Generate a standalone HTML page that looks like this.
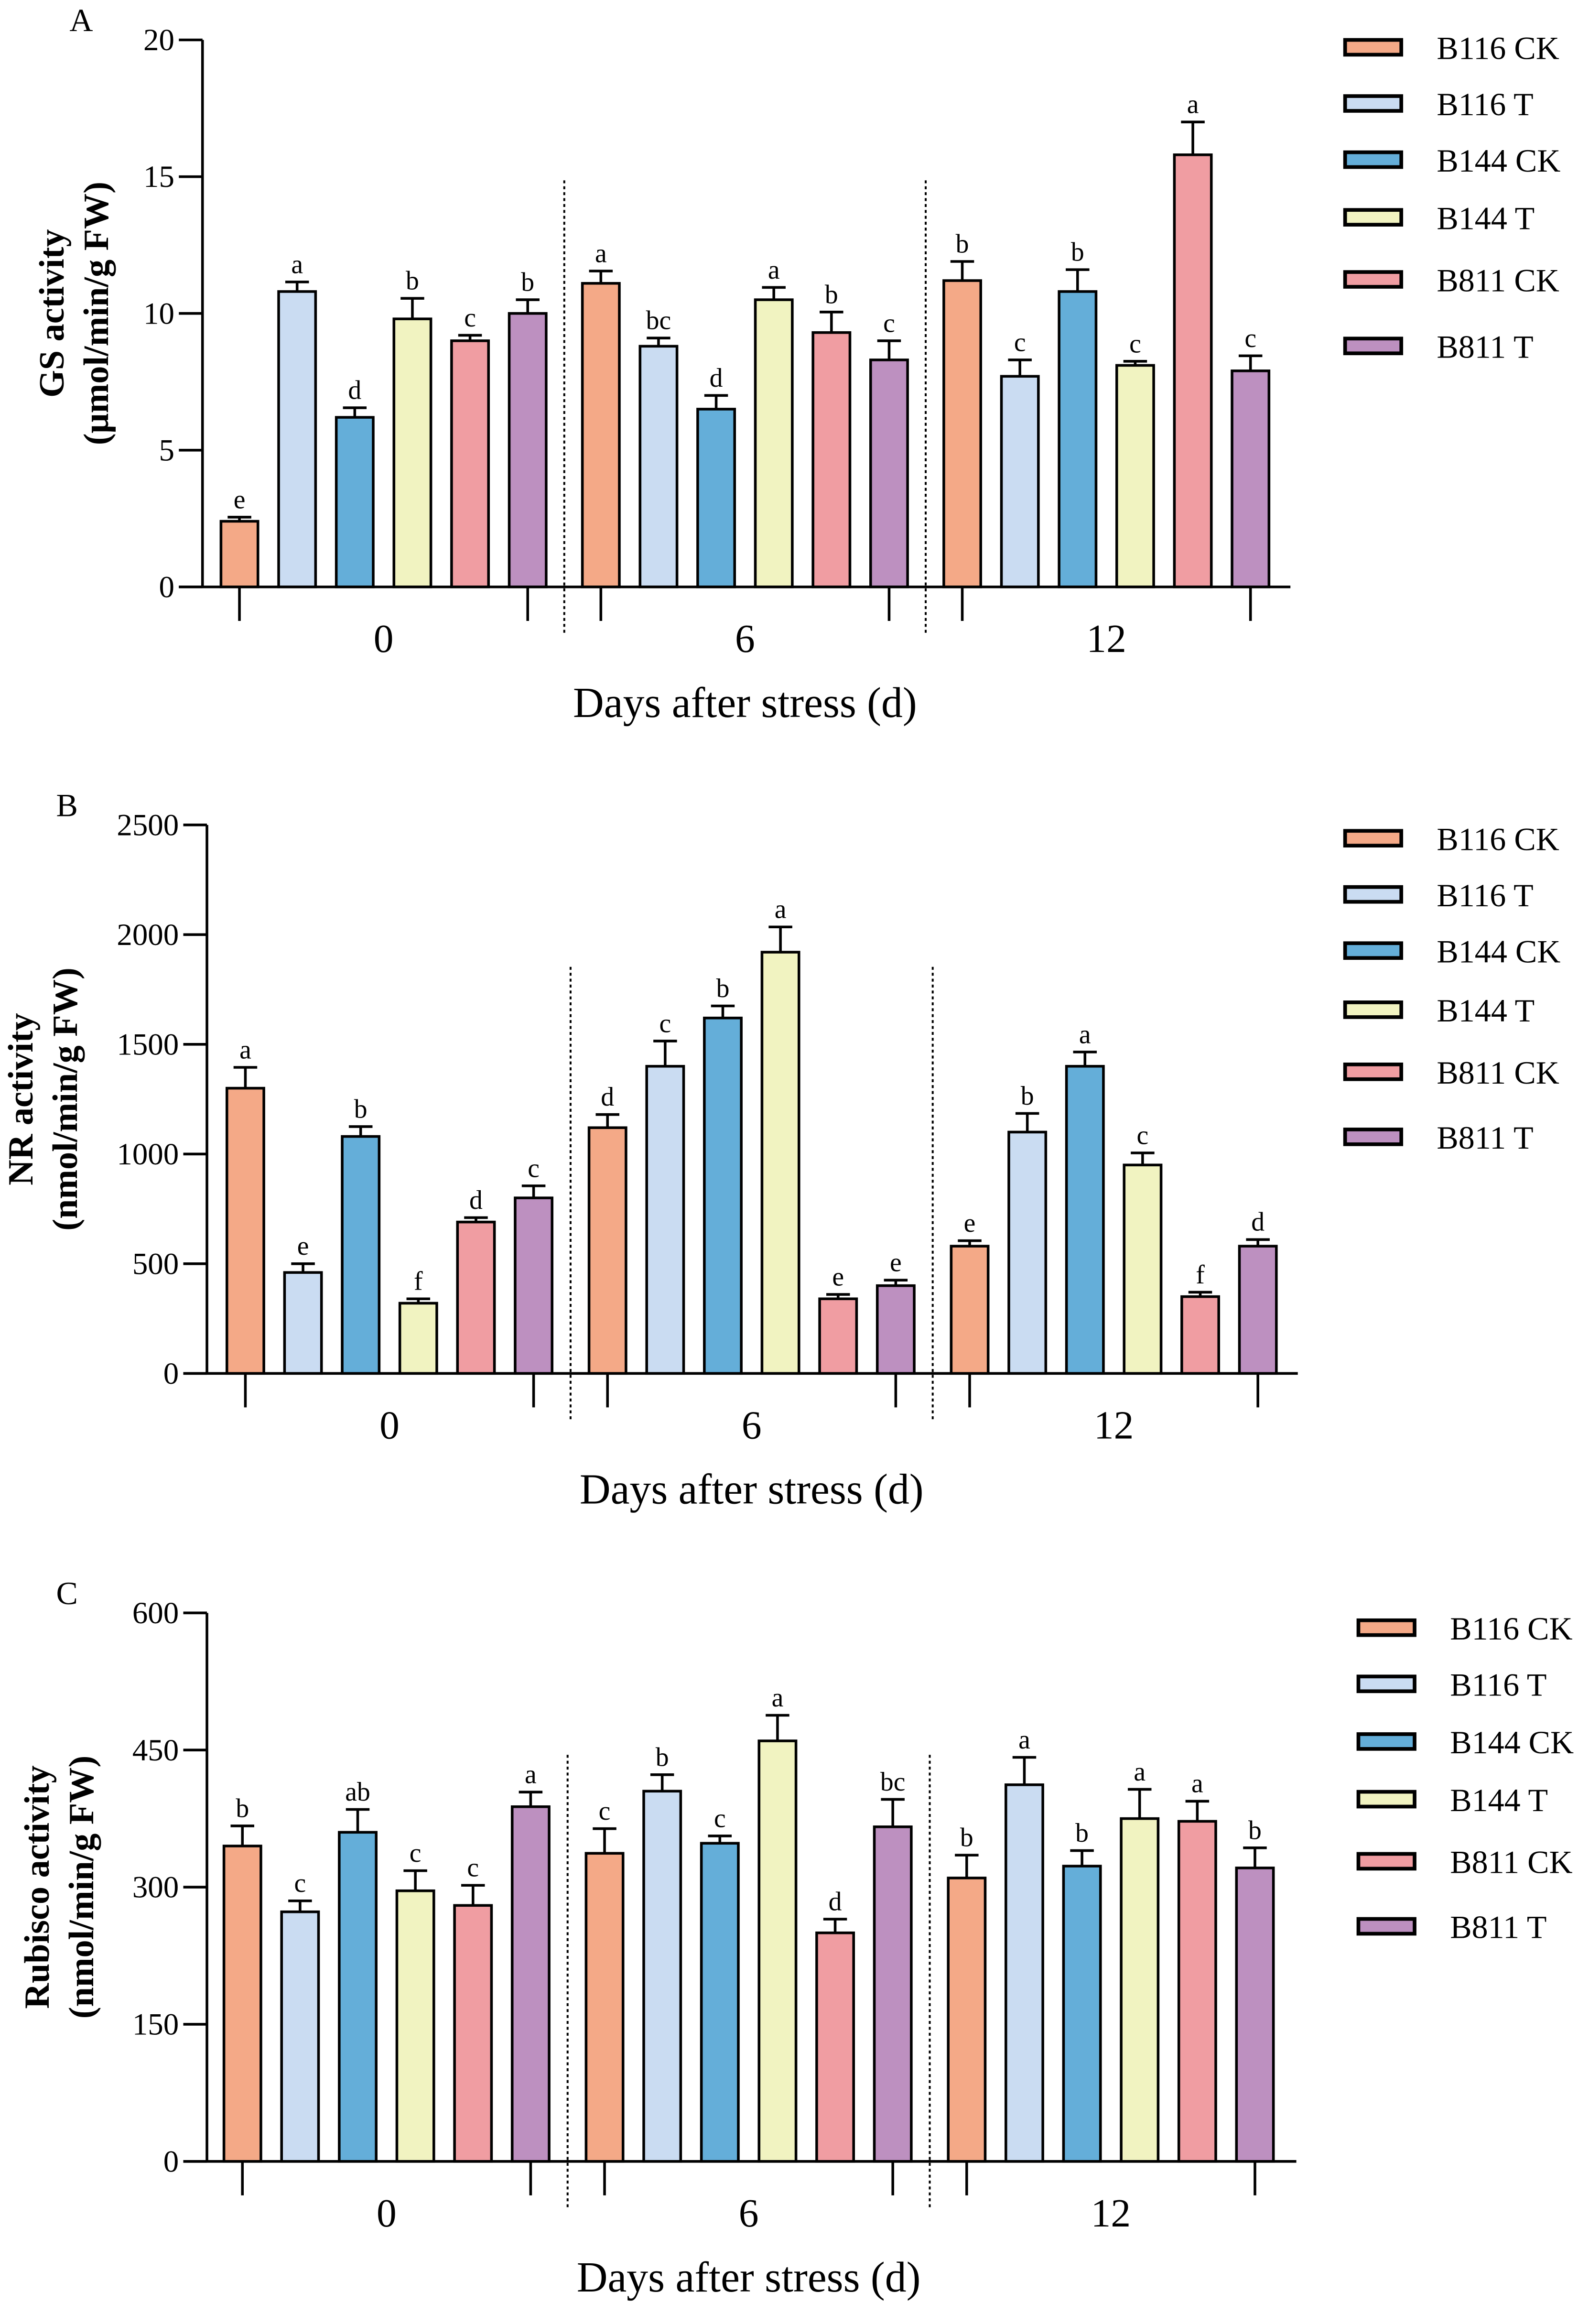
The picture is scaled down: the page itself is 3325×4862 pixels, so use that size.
<!DOCTYPE html>
<html><head><meta charset="utf-8"><style>
html,body{margin:0;padding:0;background:#fff}
svg{display:block}
text{font-family:"Liberation Serif",serif;fill:#000}
</style></head><body>
<svg id="fig" width="3325" height="4862" viewBox="0 0 1075 1572" preserveAspectRatio="none" xmlns="http://www.w3.org/2000/svg"></svg>
<script>
const seriesNames = ["B116 CK","B116 T","B144 CK","B144 T","B811 CK","B811 T"];
const seriesColors = ["#F4A987","#CADCF2","#64AED9","#F1F3C1","#F09DA2","#BD90C0"];
const dayLabels = ["0","6","12"];

const gsValues = [[2.4,10.8,6.2,9.8,9.0,10.0],[11.1,8.8,6.5,10.5,9.3,8.3],[11.2,7.7,10.8,8.1,15.8,7.9]];
const gsErrors = [[0.15,0.35,0.35,0.75,0.2,0.5],[0.45,0.3,0.5,0.45,0.75,0.7],[0.7,0.6,0.8,0.15,1.2,0.55]];
const gsLetters = [["e","a","d","b","c","b"],["a","bc","d","a","b","c"],["b","c","b","c","a","c"]];
const gsTicks = [0,5,10,15,20];

const nrValues = [[1300,460,1080,320,690,800],[1120,1400,1620,1920,340,400],[580,1100,1400,950,350,580]];
const nrErrors = [[95,40,45,20,20,55],[60,115,55,115,20,25],[25,85,65,55,20,30]];
const nrLetters = [["a","e","b","f","d","c"],["d","c","b","a","e","e"],["e","b","a","c","f","d"]];
const nrTicks = [0,500,1000,1500,2000,2500];

const rbValues = [[345,273,360,296,280,388],[337,405,348,460,250,366],[310,412,323,375,372,321]];
const rbErrors = [[22,12,25,22,22,16],[27,18,8,28,15,30],[25,30,17,32,22,22]];
const rbLetters = [["b","c","ab","c","c","a"],["c","b","c","a","d","bc"],["b","a","b","a","a","b"]];
const rbTicks = [0,150,300,450,600];

const NS="http://www.w3.org/2000/svg";
const svg=document.getElementById('fig');
function mk(tag,attrs,parent){const e=document.createElementNS(NS,tag);for(const k in attrs)e.setAttribute(k,attrs[k]);(parent||svg).appendChild(e);return e;}

function panel(cfg){
  const g=mk('g',{});
  
  
  const ymax=cfg.ticks[cfg.ticks.length-1];
  const y=v=>cfg.y0-(v/ymax)*(cfg.y0-cfg.yTop);
  const firstBar=cfg.firstBar, bp=39, gp=cfg.groupPitch, bw=25;
  const bx=(gi,si)=>firstBar+gi*gp+si*bp;
  const pl=mk('text',{x:cfg.letterX,y:cfg.yTop-6,'font-size':22},g);pl.textContent=cfg.letter;
  
  
  cfg.values.forEach((grp,gi)=>grp.forEach((v,si)=>{
    const cx=bx(gi,si);
    const e=cfg.errors[gi][si];
    const eb=mk('path',{d:`M${cx} ${y(v)}V${y(v+e)}M${cx-8} ${y(v+e)}H${cx+8}`,stroke:'#000','stroke-width':1.8,fill:'none'},g);
    
    
    const r=mk('rect',{x:cx-bw/2,y:y(v),width:bw,height:cfg.y0-y(v),fill:seriesColors[si],stroke:'#000','stroke-width':1.8},g);
    
    
    const t=mk('text',{x:cx,y:y(v+e)-6,'font-size':18,'text-anchor':'middle'},g);t.textContent=cfg.letters[gi][si];
    
    
    if(si===0||si===5){
      const tk=mk('line',{x1:cx,x2:cx,y1:cfg.y0,y2:cfg.y0+23,stroke:'#000','stroke-width':1.8},g);
      
      
    }
  }));
  for(let gi=1;gi<3;gi++){
    const dx=(bx(gi-1,5)+bx(gi,0))/2;
    const d=mk('line',{x1:dx,x2:dx,y1:cfg.y0-275,y2:cfg.y0+33,stroke:'#000','stroke-width':1.3,'stroke-dasharray':'2,2'},g);
    
    
  }
  const ya=mk('line',{x1:cfg.axisX,x2:cfg.axisX,y1:cfg.yTop,y2:cfg.y0,stroke:'#000','stroke-width':1.8},g);
  
  
  const xa=mk('line',{x1:cfg.axisX-16,x2:cfg.xEnd,y1:cfg.y0,y2:cfg.y0,stroke:'#000','stroke-width':1.8},g);
  
  
  cfg.ticks.forEach(tv=>{
    const l=mk('line',{x1:cfg.axisX-16,x2:cfg.axisX,y1:y(tv),y2:y(tv),stroke:'#000','stroke-width':1.8},g);
    
    
    const t=mk('text',{x:cfg.axisX-19,y:y(tv)+7,'font-size':21,'text-anchor':'end'},g);t.textContent=tv;
    
    
  });
  dayLabels.forEach((d,gi)=>{
    const t=mk('text',{x:(bx(gi,0)+bx(gi,5))/2,y:cfg.y0+44,'font-size':27,'text-anchor':'middle'},g);t.textContent=d;
    
    
  });
  const xt=mk('text',{x:(bx(0,0)+bx(2,5))/2,y:cfg.y0+88,'font-size':29,'text-anchor':'middle'},g);xt.textContent='Days after stress (d)';
  
  
  const cy=(cfg.y0+cfg.yTop)/2;
  const yt=mk('text',{transform:`translate(${cfg.titleX},${cy}) rotate(-90)`,'font-size':24,'font-weight':'bold','text-anchor':'middle'},g);
  
  
  const s1=mk('tspan',{x:0,dy:0},yt);s1.textContent=cfg.title1;
  const s2=mk('tspan',{x:0,dy:30},yt);s2.textContent=cfg.title2;
  seriesNames.forEach((n,i)=>{
    const ly=cfg.legendY[i];
    const r=mk('rect',{x:cfg.legendX,y:ly-5,width:38,height:10,fill:seriesColors[i],stroke:'#000','stroke-width':2.5},g);
    
    
    const t=mk('text',{x:cfg.legendX+62,y:ly+8,'font-size':22},g);t.textContent=n;
    
    
  });
}

panel({name:'gs',letter:'A',letterX:47,values:gsValues,errors:gsErrors,letters:gsLetters,ticks:gsTicks,y0:397,yTop:27,axisX:137,xEnd:873,firstBar:162,groupPitch:244.5,titleX:43,title1:'GS activity',title2:'(μmol/min/g FW)',legendX:910,legendY:[32,70,108,147,189,234]});
panel({name:'nr',letter:'B',letterX:38,values:nrValues,errors:nrErrors,letters:nrLetters,ticks:nrTicks,y0:929,yTop:558,axisX:140,xEnd:878,firstBar:166,groupPitch:245,titleX:22,title1:'NR activity',title2:'(nmol/min/g FW)',legendX:910,legendY:[567,605,643,683,725,769]});
panel({name:'rubisco',letter:'C',letterX:38,values:rbValues,errors:rbErrors,letters:rbLetters,ticks:rbTicks,y0:1462,yTop:1091,axisX:140,xEnd:877,firstBar:164,groupPitch:245,titleX:33,title1:'Rubisco activity',title2:'(nmol/min/g FW)',legendX:919,legendY:[1101,1139,1178,1217,1259,1303]});
</script>
</body></html>
